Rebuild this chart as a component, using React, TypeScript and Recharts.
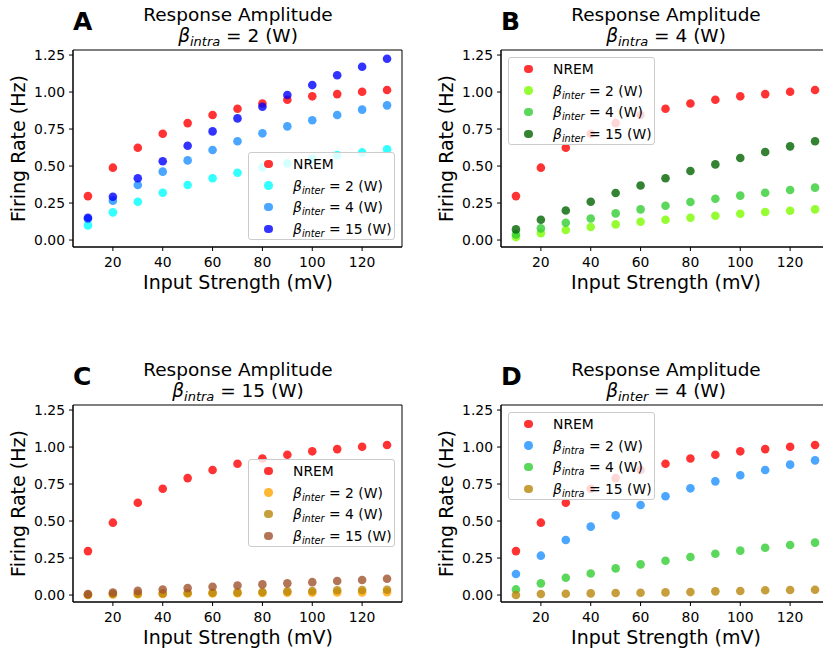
import React from "react"
import { ReferenceArea, Scatter, ScatterChart, XAxis, YAxis } from "recharts"

/*
 * Response amplitude, four panels. Firing rate against input strength for
 * each coupling combination; NREM reference in red on every panel.
 */

const FONT = "'DejaVu Sans', sans-serif"

const XS = [10, 20, 30, 40, 50, 60, 70, 80, 90, 100, 110, 120, 130]
const X_TICKS = [20, 40, 60, 80, 100, 120]
const Y_TICKS = [0, 0.25, 0.5, 0.75, 1.0, 1.25]

const NREM = [0.297, 0.489, 0.624, 0.718, 0.79, 0.845, 0.887, 0.923, 0.948, 0.971, 0.986, 1.002, 1.014]
// intra = 2
const INTRA2_INTER2 = [0.099, 0.187, 0.259, 0.32, 0.372, 0.417, 0.455, 0.491, 0.518, 0.55, 0.574, 0.592, 0.613]
const INTRA2_INTER4 = [0.142, 0.266, 0.372, 0.462, 0.538, 0.608, 0.667, 0.721, 0.768, 0.809, 0.845, 0.881, 0.91]
const INTRA2_INTER15 = [0.151, 0.293, 0.417, 0.532, 0.637, 0.734, 0.822, 0.901, 0.98, 1.047, 1.113, 1.171, 1.225]
// intra = 4
const INTRA4_INTER2 = [0.02, 0.047, 0.068, 0.088, 0.106, 0.124, 0.137, 0.151, 0.164, 0.178, 0.189, 0.198, 0.207]
const INTRA4_INTER4 = [0.038, 0.079, 0.117, 0.146, 0.18, 0.207, 0.232, 0.257, 0.279, 0.3, 0.32, 0.338, 0.354]
const INTRA4_INTER15 = [0.072, 0.137, 0.2, 0.259, 0.318, 0.369, 0.417, 0.466, 0.511, 0.554, 0.595, 0.633, 0.667]
// intra = 15
const INTRA15_INTER2 = [0.002, 0.004, 0.006, 0.008, 0.01, 0.011, 0.012, 0.014, 0.015, 0.016, 0.017, 0.018, 0.019]
const INTRA15_INTER4 = [0.0, 0.007, 0.009, 0.011, 0.014, 0.016, 0.018, 0.02, 0.025, 0.027, 0.032, 0.034, 0.036]
const INTRA15_INTER15 = [0.007, 0.017, 0.028, 0.037, 0.047, 0.056, 0.064, 0.072, 0.079, 0.087, 0.095, 0.102, 0.11]

const RED = "#ff0000"

interface Series {
  values: number[]
  color: string
  label: string
  sub?: string
}

interface Panel {
  letter: string
  sub: string
  value: string
  left: number
  top: number
  legend: { left: number; top: number }
  series: Series[]
}

const PANELS: Panel[] = [
  {
    letter: "A",
    sub: "intra",
    value: "2",
    left: 0,
    top: 0,
    legend: { left: 248, top: 152 },
    series: [
      { values: NREM, color: RED, label: "NREM" },
      { values: INTRA2_INTER2, color: "#00ffff", label: "2", sub: "inter" },
      { values: INTRA2_INTER4, color: "#1e90ff", label: "4", sub: "inter" },
      { values: INTRA2_INTER15, color: "#0000ff", label: "15", sub: "inter" },
    ],
  },
  {
    letter: "B",
    sub: "intra",
    value: "4",
    left: 428,
    top: 0,
    legend: { left: 508, top: 57 },
    series: [
      { values: NREM, color: RED, label: "NREM" },
      { values: INTRA4_INTER2, color: "#7cfc00", label: "2", sub: "inter" },
      { values: INTRA4_INTER4, color: "#32cd32", label: "4", sub: "inter" },
      { values: INTRA4_INTER15, color: "#006400", label: "15", sub: "inter" },
    ],
  },
  {
    letter: "C",
    sub: "intra",
    value: "15",
    left: 0,
    top: 355,
    legend: { left: 248, top: 459 },
    series: [
      { values: NREM, color: RED, label: "NREM" },
      { values: INTRA15_INTER2, color: "#ffa500", label: "2", sub: "inter" },
      { values: INTRA15_INTER4, color: "#b8860b", label: "4", sub: "inter" },
      { values: INTRA15_INTER15, color: "#a0522d", label: "15", sub: "inter" },
    ],
  },
  {
    letter: "D",
    sub: "inter",
    value: "4",
    left: 428,
    top: 355,
    legend: { left: 508, top: 412 },
    series: [
      { values: NREM, color: RED, label: "NREM" },
      { values: INTRA2_INTER4, color: "#1e90ff", label: "2", sub: "intra" },
      { values: INTRA4_INTER4, color: "#32cd32", label: "4", sub: "intra" },
      { values: INTRA15_INTER4, color: "#b8860b", label: "15", sub: "intra" },
    ],
  },
]

const W = 410
const H = 300
const X_DOMAIN: [number, number] = [4, 136]
const Y_DOMAIN: [number, number] = [-0.047, 1.284]
const TICK = { fill: "#000", fontSize: 13.9, fontFamily: FONT }

function Beta({ sub, size }: { sub: string; size: number }) {
  return (
    <>
      <span style={{ fontStyle: "italic" }}>β</span>
      <span
        style={{
          fontStyle: "italic",
          fontSize: size * 0.7,
          position: "relative",
          top: size * 0.22,
        }}
      >
        {sub}
      </span>
    </>
  )
}

function PanelLegend({ panel }: { panel: Panel }) {
  return (
    <div
      style={{
        position: "absolute",
        left: panel.legend.left,
        top: panel.legend.top,
        width: 147,
        height: 88,
        boxSizing: "border-box",
        border: "1px solid #cccccc",
        borderRadius: 3,
        background: "rgba(255,255,255,0.8)",
        paddingTop: 0.5,
        fontFamily: FONT,
        fontSize: 13.9,
        color: "#000",
      }}
    >
      {panel.series.map((s, i) => (
        <div
          key={i}
          style={{
            position: "absolute",
            left: 0,
            top: 11 + i * 21.6 - 11,
            height: 22,
            display: "flex",
            alignItems: "center",
            whiteSpace: "pre",
          }}
        >
          <span
            style={{
              position: "absolute",
              left: 15,
              width: 8.6,
              height: 8.6,
              borderRadius: "50%",
              background: s.color,
              opacity: 0.8,
            }}
          />
          <span style={{ position: "absolute", left: 44, whiteSpace: "pre" }}>
            {s.sub ? (
              <>
                <Beta sub={s.sub} size={13.9} />
                {` = ${s.label} (W)`}
              </>
            ) : (
              s.label
            )}
          </span>
        </div>
      ))}
    </div>
  )
}

function PanelText({ panel }: { panel: Panel }) {
  const cx = panel.left + 238
  const t = panel.top
  return (
    <g fontFamily={FONT} fill="#000">
      <text x={panel.left + 73} y={t + 30} fontSize={25} fontWeight="bold">
        {panel.letter}
      </text>
      <text x={cx} y={t + 21} fontSize={18.5} textAnchor="middle">
        Response Amplitude
      </text>
      <text x={cx} y={t + 42} fontSize={18.5} textAnchor="middle" style={{ whiteSpace: "pre" }}>
        <tspan fontStyle="italic">β</tspan>
        <tspan fontStyle="italic" fontSize={13} dy={4}>
          {panel.sub}
        </tspan>
        <tspan dy={-4}>{` = ${panel.value} (W)`}</tspan>
      </text>
      <text x={cx} y={t + 289} fontSize={19} textAnchor="middle">
        Input Strength (mV)
      </text>
      <text
        x={panel.left + 25}
        y={t + 148.5}
        fontSize={19}
        textAnchor="middle"
        transform={`rotate(-90 ${panel.left + 25} ${t + 148.5})`}
      >
        Firing Rate (Hz)
      </text>
    </g>
  )
}

function PanelChart({ panel }: { panel: Panel }) {
  return (
    <div style={{ position: "absolute", left: panel.left, top: panel.top }}>
      <ScatterChart width={W} height={H} margin={{ top: 50, right: 8, bottom: 13, left: 13 }}>
        <XAxis
          type="number"
          dataKey="x"
          domain={X_DOMAIN}
          ticks={X_TICKS}
          allowDataOverflow
          height={40}
          tickSize={4}
          tickMargin={6}
          tick={TICK}
          stroke="#000"
        />
        <YAxis
          type="number"
          dataKey="y"
          domain={Y_DOMAIN}
          ticks={Y_TICKS}
          allowDataOverflow
          width={60}
          tickSize={4}
          tickMargin={4}
          tick={TICK}
          tickFormatter={(v: number) => v.toFixed(2)}
          stroke="#000"
        />
        <ReferenceArea
          x1={X_DOMAIN[0]}
          x2={X_DOMAIN[1]}
          y1={Y_DOMAIN[0]}
          y2={Y_DOMAIN[1]}
          fill="none"
          stroke="#000"
          strokeWidth={1}
        />
        {panel.series.map((s, i) => (
          <Scatter
            key={i}
            data={XS.map((x, j) => ({ x, y: s.values[j] }))}
            fill={s.color}
            isAnimationActive={false}
            shape={(p: { cx?: number; cy?: number }) => (
              <circle cx={p.cx} cy={p.cy} r={4.3} fill={s.color} fillOpacity={0.8} />
            )}
          />
        ))}
      </ScatterChart>
    </div>
  )
}

export default function App() {
  return (
    <div
      style={{
        position: "absolute",
        left: 0,
        top: 0,
        width: 823,
        height: 650,
        overflow: "hidden",
        background: "#fff",
      }}
    >
      {PANELS.map((p) => (
        <PanelChart key={p.letter} panel={p} />
      ))}
      <svg
        width={823}
        height={650}
        style={{ position: "absolute", left: 0, top: 0, pointerEvents: "none" }}
      >
        {PANELS.map((p) => (
          <PanelText key={p.letter} panel={p} />
        ))}
      </svg>
      {PANELS.map((p) => (
        <PanelLegend key={p.letter} panel={p} />
      ))}
    </div>
  )
}
